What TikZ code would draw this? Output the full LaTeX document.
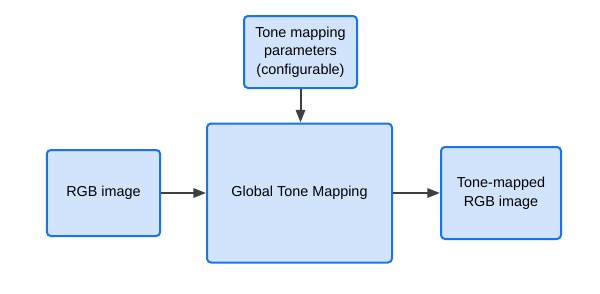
\documentclass[tikz,border=0pt]{standalone}
\usepackage{fontspec}
\setmainfont{Liberation Sans}
\usetikzlibrary{arrows.meta}

\definecolor{boxfill}{HTML}{D2E3FC}
\definecolor{boxline}{HTML}{1A73E8}
\definecolor{arrowgray}{HTML}{3C4043}

\tikzset{
	block/.style={draw=boxline, fill=boxfill, line width=1.5pt, rounded corners=3pt,
		align=center, font=\fontsize{10.8}{14}\selectfont, inner sep=0pt},
	flow/.style={-{Triangle[length=9.5pt, width=7pt]}, draw=arrowgray, line width=1.5pt}
}

\begin{document}
\begin{tikzpicture}[x=0.75pt, y=-0.75pt]
		\useasboundingbox (0, 0) rectangle (600, 293);
		% the three boxes of the main row
		\node [block, minimum width=85pt, minimum height=64.5pt] (rgb) at (103.5, 193) {RGB image};
		\node [block, minimum width=138.75pt, minimum height=104.25pt] (gtm) at (299.5, 193) {Global Tone Mapping};
		\node [block, minimum width=90pt, minimum height=69pt] (out) at (501, 193) {Tone-mapped\\RGB image};
		% parameters box above
		\node [block, minimum width=84.75pt, minimum height=54pt] (par) at (300.5, 52) {Tone mapping\\parameters\\(configurable)};
		\draw [flow] (rgb) -- (gtm);
		\draw [flow] (gtm) -- (out);
		\draw [flow] (par) -- (gtm.north -| par);
	\end{tikzpicture}
\end{document}
